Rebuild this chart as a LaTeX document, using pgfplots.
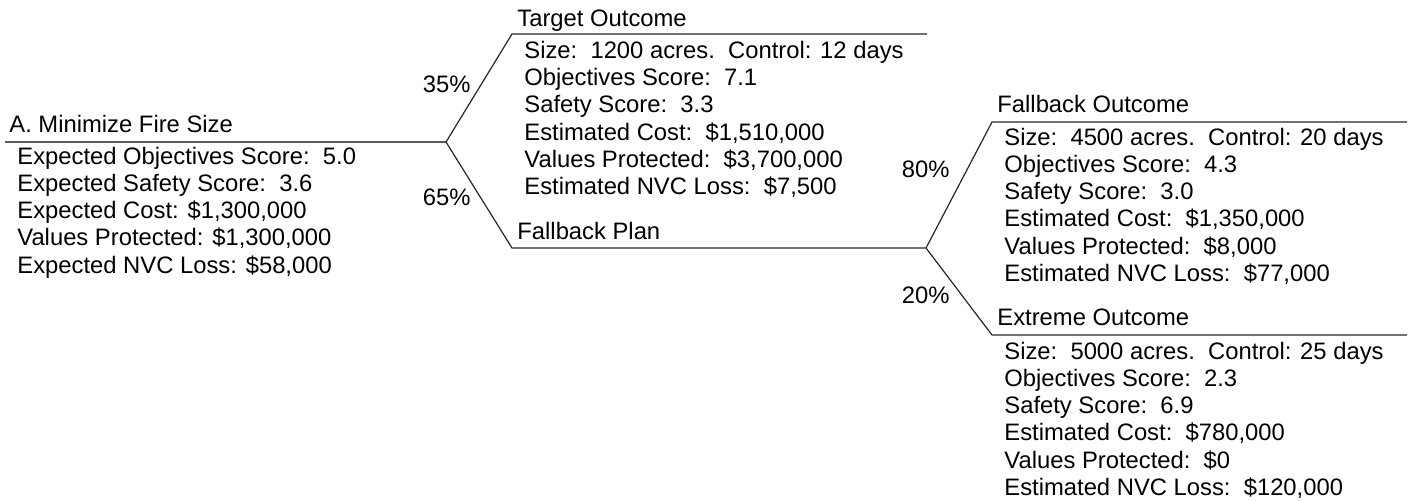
\documentclass[border=0pt]{standalone}
\usepackage{fontspec}
\setmainfont{Liberation Sans}
\usepackage{pgfplots}
\pgfplotsset{compat=1.18}
\newcommand{\txt}[3]{\node[anchor=base west,inner sep=0pt] at (axis cs:#1,#2) {#3};}
\newcommand{\txr}[3]{\node[anchor=base east,inner sep=0pt] at (axis cs:#1,#2) {#3};}
\begin{document}
\fontsize{11.9}{13.65}\selectfont
\begin{tikzpicture}
\begin{axis}[
  scale only axis, width=706pt, height=250pt,
  xmin=0, xmax=1412, ymin=0, ymax=500, y dir=reverse,
  hide axis, clip=false,
  tl/.style={black!85, line width=0.6pt, mark=none},
]
\path (rel axis cs:0,0) (rel axis cs:1,1);
% tree lines
\addplot[tl, black!65, line width=0.7pt] coordinates {(5,142) (446,142)};
\addplot[tl] coordinates {(446,142) (512,34) (927,34)};
\addplot[tl] coordinates {(446,142) (512,248) (926,248)};
\addplot[tl] coordinates {(926,248) (992,122) (1407,122)};
\addplot[tl] coordinates {(926,248) (992,335) (1407,335)};
% root
\txt{9}{132}{A. Minimize Fire Size}
\txt{17}{164}{Expected Objectives Score:\ \ 5.0}
\txt{17}{191.3}{Expected Safety Score:\ \ 3.6}
\txt{17}{218.6}{Expected Cost: \$1,300,000}
\txt{17}{245.9}{Values Protected: \$1,300,000}
\txt{17}{273.2}{Expected NVC Loss: \$58,000}
% probabilities
\txr{471}{92}{35\%}
\txr{471}{205}{65\%}
\txr{950}{177}{80\%}
\txr{950}{303}{20\%}
% target outcome
\txt{517}{26}{Target Outcome}
\txt{524}{58.3}{Size:\ \ 1200 acres.\ \ Control: 12 days}
\txt{524}{85.6}{Objectives Score:\ \ 7.1}
\txt{524}{112.9}{Safety Score:\ \ 3.3}
\txt{524}{140.2}{Estimated Cost:\ \ \$1,510,000}
\txt{524}{167.5}{Values Protected:\ \ \$3,700,000}
\txt{524}{194.8}{Estimated NVC Loss:\ \ \$7,500}
\txt{517}{239}{Fallback Plan}
% fallback outcome
\txt{997}{112}{Fallback Outcome}
\txt{1004}{145}{Size:\ \ 4500 acres.\ \ Control: 20 days}
\txt{1004}{172.3}{Objectives Score:\ \ 4.3}
\txt{1004}{199.6}{Safety Score:\ \ 3.0}
\txt{1004}{226.9}{Estimated Cost:\ \ \$1,350,000}
\txt{1004}{254.2}{Values Protected:\ \ \$8,000}
\txt{1004}{281.5}{Estimated NVC Loss:\ \ \$77,000}
% extreme outcome
\txt{997}{325}{Extreme Outcome}
\txt{1004}{359}{Size:\ \ 5000 acres.\ \ Control: 25 days}
\txt{1004}{386.3}{Objectives Score:\ \ 2.3}
\txt{1004}{413.6}{Safety Score:\ \ 6.9}
\txt{1004}{440.9}{Estimated Cost:\ \ \$780,000}
\txt{1004}{468.2}{Values Protected:\ \ \$0}
\txt{1004}{495.5}{Estimated NVC Loss:\ \ \$120,000}
\end{axis}
\end{tikzpicture}
\end{document}
